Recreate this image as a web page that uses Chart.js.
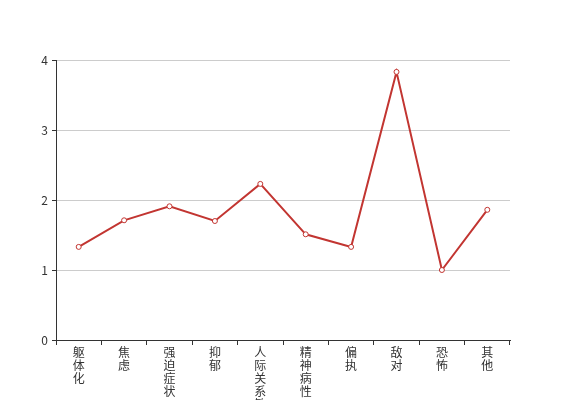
<!DOCTYPE html>
<html>
<head>
<meta charset="utf-8">
<script src="https://cdn.jsdelivr.net/npm/chart.js@4"></script>
<style>
  html, body { margin: 0; padding: 0; background: #fff; }
  #wrap { width: 567px; height: 400px; }
</style>
</head>
<body>
<div id="wrap"><canvas id="scoreChart" width="567" height="400"></canvas></div>
<script>
var categories = ['躯体化', '焦虑', '强迫症状', '抑郁', '人际关系敏感', '精神病性', '偏执', '敌对', '恐怖', '其他'];
var scores = [1.33, 1.71, 1.91, 1.70, 2.23, 1.51, 1.33, 3.83, 1.00, 1.86];
var yTicks = [0, 1, 2, 3, 4];

Chart.defaults.font.family = '"Noto Sans CJK SC", "Noto Sans", sans-serif';
Chart.defaults.font.size = 12;
Chart.defaults.color = '#333';

var ctx = document.getElementById('scoreChart').getContext('2d');
var scoreChart = new Chart(ctx, {
  type: 'line',
  data: {
    // split each name into single characters so they stack vertically
    labels: categories.map(function(c) { return c.split(''); }),
    datasets: [{
      data: scores,
      borderColor: '#c23531',
      borderWidth: 2,
      pointRadius: 2.5,
      pointHoverRadius: 3,
      pointBackgroundColor: '#fff',
      pointBorderColor: '#c23531',
      pointBorderWidth: 1,
      tension: 0
    }]
  },
  options: {
    responsive: false,
    animation: false,
    layout: { padding: { left: 0, right: 57, top: 60, bottom: 0 } },
    plugins: {
      legend: { display: false },
      tooltip: { enabled: false }
    },
    scales: {
      x: {
        offset: true,
        grid: {
          offset: true,
          drawOnChartArea: false,
          tickColor: '#333',
          tickLength: 5
        },
        border: { color: '#333', width: 1 },
        ticks: {
          autoSkip: false,
          maxRotation: 0,
          padding: 1,
          color: '#333',
          font: { size: 12, lineHeight: 1.08 }
        },
        afterFit: function(scale) { scale.height = 60; }
      },
      y: {
        min: 0,
        max: 4,
        afterBuildTicks: function(scale) {
          scale.ticks = yTicks.map(function(v) { return { value: v }; });
        },
        grid: {
          color: '#ccc',
          tickColor: '#333',
          tickLength: 4
        },
        border: { color: '#333', width: 1 },
        ticks: { padding: 4, color: '#333' },
        afterFit: function(scale) { scale.width = 56; }
      }
    }
  }
});
</script>
</body>
</html>
